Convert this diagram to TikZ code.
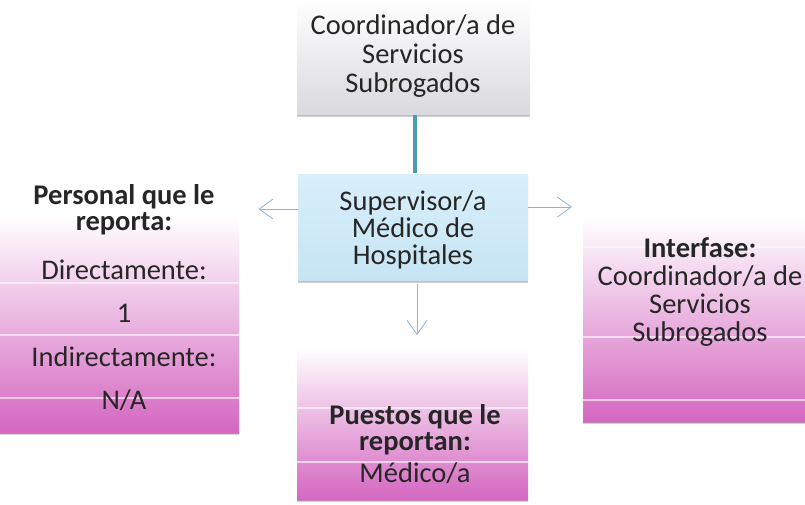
\documentclass[tikz,border=0pt]{standalone}
\usepackage{fontspec}
\setmainfont{Carlito}
\usetikzlibrary{arrows.meta}
\definecolor{txt}{HTML}{262626}
\definecolor{pinkB}{HTML}{D466C0}
\definecolor{pinkM}{HTML}{ECB6E2}
\definecolor{blueT}{HTML}{D9EFFA}
\definecolor{blueB}{HTML}{C6E4F4}
\definecolor{grayB}{HTML}{D9D9DE}
\definecolor{arrc}{HTML}{8DB3DF}
\definecolor{teal}{HTML}{4A9CB8}
\begin{document}
\begin{tikzpicture}[x=1pt,y=-1pt,
  box/.style={anchor=north west,inner sep=0pt,draw=none},
  pinkbox/.style={box,top color=white,middle color=pinkM,bottom color=pinkB},
  stripe/.style={white,opacity=0.6,line width=1.4pt},
  shade/.style={black!35,opacity=0.5,line width=1.5pt},
  lbl/.style={text=txt,align=center,inner sep=0pt,font=\fontsize{28.5}{29}\selectfont},
  arr/.style={draw=arrc,line width=0.8pt,-{Straight Barb[length=14pt,width=20pt,line width=0.8pt]}}
]
\useasboundingbox (0,0) rectangle (805,504);
% boxes
\node[box,top color=white,bottom color=grayB,minimum width=233pt,minimum height=116pt] (top) at (297,-1) {};
\node[box,top color=blueT,bottom color=blueB,minimum width=230pt,minimum height=108pt] (sup) at (298,173) {};
\node[pinkbox,minimum width=239pt,minimum height=218pt] (lft) at (0,215) {};
\node[pinkbox,minimum width=223pt,minimum height=205pt] (rgt) at (583,217) {};
\node[pinkbox,minimum width=231pt,minimum height=153pt] (bot) at (297,347) {};
% bottom shading edges
\draw[shade] ([yshift=-0.8pt]top.south west) -- ([yshift=-0.8pt]top.south east);
\draw[shade] ([yshift=-0.8pt]sup.south west) -- ([yshift=-0.8pt]sup.south east);
\draw[shade] ([yshift=-0.8pt]lft.south west) -- ([yshift=-0.8pt]lft.south east);
\draw[shade] ([yshift=-0.8pt]rgt.south west) -- ([yshift=-0.8pt]rgt.south east);
\draw[shade] ([yshift=-0.8pt]bot.south west) -- ([yshift=-0.8pt]bot.south east);
% stripes
\draw[stripe] (lft.west |- 0,283) -- (lft.east |- 0,283);
\draw[stripe] (lft.west |- 0,335) -- (lft.east |- 0,335);
\draw[stripe] (lft.west |- 0,398) -- (lft.east |- 0,398);
\draw[stripe] (rgt.west |- 0,247) -- (rgt.east |- 0,247);
\draw[stripe] (rgt.west |- 0,337) -- (rgt.east |- 0,337);
\draw[stripe] (rgt.west |- 0,400) -- (rgt.east |- 0,400);
\draw[stripe] (bot.west |- 0,408) -- (bot.east |- 0,408);
\draw[stripe] (bot.west |- 0,462) -- (bot.east |- 0,462);
\draw[white,line width=1pt] (sup.north west) -- (sup.north east);
% texts
\node[lbl] (ttop) at (413,56) {Coordinador/a de\\Servicios\\Subrogados};
\node[lbl,font=\fontsize{28.5}{27}\selectfont] (tsup) at (413,230) {Supervisor/a\\Médico de\\Hospitales};
\node[lbl,font=\fontsize{28.5}{26}\selectfont\bfseries] (tl1) at (124,210) {Personal que le\\reporta:};
\node[lbl] (tl2) at (124,270) {Directamente:};
\node[lbl] (tl3) at (124,313) {1};
\node[lbl] (tl4) at (124,357) {Indirectamente:};
\node[lbl] (tl5) at (124,400) {N/A};
\node[lbl] (tr1) at (700,248) {\bfseries Interfase:};
\node[lbl,font=\fontsize{28.5}{28}\selectfont] (tr2) at (700,306) {Coordinador/a de\\Servicios\\Subrogados};
\node[lbl,font=\fontsize{28.5}{26}\selectfont\bfseries] (tb1) at (415,430) {Puestos que le\\reportan:};
\node[lbl] (tb2) at (415,473) {Médico/a};
% connectors
\draw[teal,line width=3.5pt] (top.south -| 415,0) -- (sup.north -| 415,0);
\draw[arr,shorten >=19pt] (sup.west |- 0,209) -- (lft.east |- 0,209);
\draw[arr,shorten >=11pt] (sup.east |- 0,207) -- (rgt.west |- 0,207);
\draw[arr,shorten >=12pt,shorten <=3pt] (sup.south -| 417,0) -- (bot.north -| 417,0);
\end{tikzpicture}
\end{document}
